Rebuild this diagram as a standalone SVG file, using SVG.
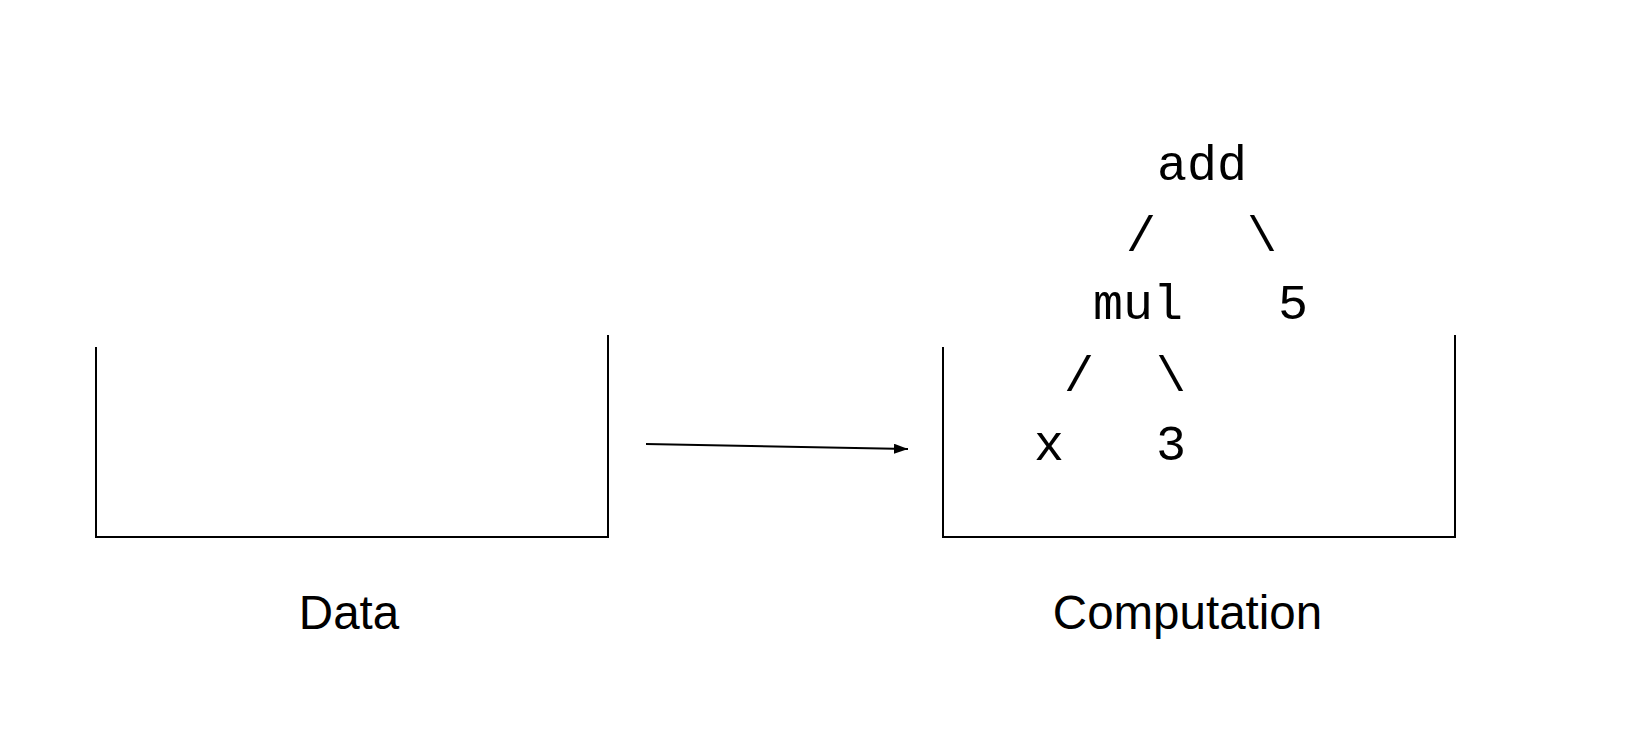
<svg xmlns="http://www.w3.org/2000/svg" width="1642" height="748" viewBox="0 0 1642 748">
<style>
.box{fill:none;stroke:#000;stroke-width:2}
.mono{font-family:"Liberation Mono","Courier New",monospace;font-size:50px;fill:#000;text-anchor:middle}
.lbl{font-family:"Liberation Sans",Arial,sans-serif;font-size:47.5px;fill:#000;text-anchor:middle}
.conn{stroke:#000;stroke-width:2;fill:none}
</style>
<defs>
<marker id="ah" markerWidth="14" markerHeight="10" refX="14" refY="5" orient="auto" markerUnits="userSpaceOnUse">
<path d="M0,0 L14,5 L0,10 Z" fill="#000"/>
</marker>
</defs>
<rect width="1642" height="748" fill="#fff"/>
<g id="data">
<polyline class="box" points="96,347 96,537 608,537 608,335"/>
<text class="lbl" x="349" y="629">Data</text>
</g>
<g id="computation">
<polyline class="box" points="943,347 943,537 1455,537 1455,335"/>
<text class="lbl" x="1187.5" y="629">Computation</text>
</g>
<g id="tree">
<text class="mono" x="1202" y="180">add</text>
<text class="mono" x="1141" y="251">/</text>
<text class="mono" x="1262" y="251">\</text>
<text class="mono" x="1138" y="319">mul</text>
<text class="mono" x="1293" y="319">5</text>
<text class="mono" x="1079" y="391">/</text>
<text class="mono" x="1171" y="391">\</text>
<text class="mono" x="1049" y="460">x</text>
<text class="mono" x="1171" y="460">3</text>
</g>
<g id="connectors">
<line class="conn" x1="646" y1="444" x2="908" y2="449" marker-end="url(#ah)"/>
</g>
</svg>
